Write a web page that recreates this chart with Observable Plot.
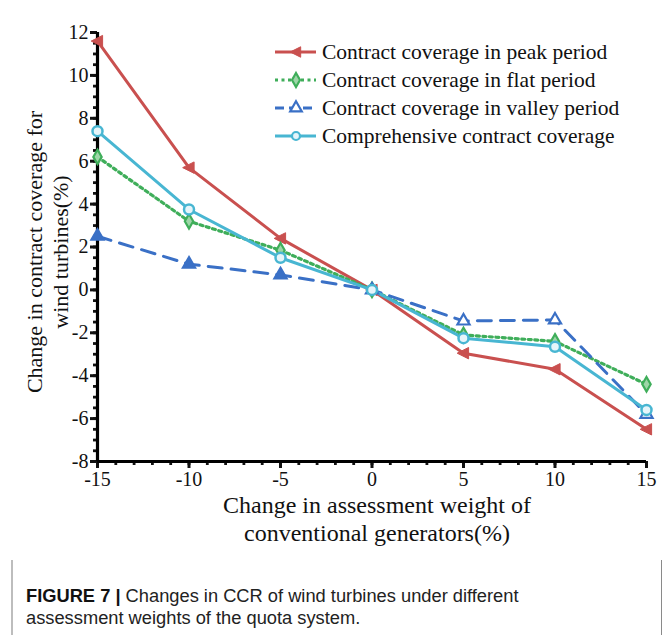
<!DOCTYPE html>
<html><head><meta charset="utf-8">
<script src="https://cdn.jsdelivr.net/npm/d3@7"></script>
<script src="https://cdn.jsdelivr.net/npm/@observablehq/plot@0.6"></script>
<style>
body{margin:0;background:#fff;}
#wrap{position:relative;width:667px;height:635px;overflow:hidden;background:#fff;}
#frame{position:absolute;left:11px;top:6px;width:648px;height:640px;border-top:2px solid #7a7a7a;border-left:2px solid #bdbdbd;border-right:1px solid #8a8a8a;}
#chart{position:absolute;left:0;top:0;}
#caption{position:absolute;left:26px;top:585px;font-family:"Liberation Sans",Arial,sans-serif;font-size:18.3px;line-height:22px;color:#222;}
#caption b{font-weight:bold;color:#111;}
</style></head>
<body>
<div id="wrap">
  <div id="frame"></div>
  <div id="chart"></div>
  <div id="caption"><b>FIGURE 7 |</b> Changes in CCR of wind turbines under different<br>assessment weights of the quota system.</div>
</div>
<script>
const xs = [-15, -10, -5, 0, 5, 10, 15];
const peak = [11.6, 5.7, 2.4, 0, -2.95, -3.7, -6.5];
const flat = [6.2, 3.2, 1.85, 0, -2.1, -2.4, -4.4];
const valley = [2.5, 1.2, 0.7, 0, -1.45, -1.4, -5.8];
const comp = [7.4, 3.75, 1.5, 0, -2.25, -2.65, -5.6];
const seriesNames = ["Contract coverage in peak period", "Contract coverage in flat period", "Contract coverage in valley period", "Comprehensive contract coverage"];
const colors = ["#c9504f", "#3fae5a", "#3a70c6", "#48b6d2"];
const xTicks = [-15, -10, -5, 0, 5, 10, 15];
const yTicks = [-8, -6, -4, -2, 0, 2, 4, 6, 8, 10, 12];
const xMinor = d3.range(-15, 15.01, 1);
const yMinor = d3.range(-8, 12.01, 0.5);

const triLeft = {draw(ctx, size) {
  const r = Math.sqrt(size / Math.PI);
  ctx.moveTo(-r * 1.05, 0);
  ctx.lineTo(r * 0.85, -r * 0.95);
  ctx.lineTo(r * 0.85, r * 0.95);
  ctx.closePath();
}};

const mk = (vals) => xs.map((x, i) => ({x, y: vals[i]}));
const dPeak = mk(peak), dFlat = mk(flat), dValley = mk(valley), dComp = mk(comp);

const W = 667, H = 560;
const plot = Plot.plot({
  width: W, height: H,
  marginLeft: 97, marginRight: 21, marginTop: 32, marginBottom: H - 461,
  x: {domain: [-15, 15]},
  y: {domain: [-8, 12]},
  style: {fontFamily: "'Liberation Serif','Times New Roman',serif", fontSize: "20px", color: "#111", background: "white"},
  marks: [
    Plot.axisX({ticks: xMinor, tickSize: 4, strokeWidth: 2.8, text: null, label: null}),
    Plot.axisY({ticks: yMinor, tickSize: 4, strokeWidth: 2.8, text: null, label: null}),
    Plot.axisX({ticks: xTicks, tickSize: 7, strokeWidth: 3, tickPadding: 3, tickFormat: d => String(d), label: null, fontSize: 20}),
    Plot.axisY({ticks: yTicks, tickSize: 7, strokeWidth: 3, tickPadding: 2, tickFormat: d => String(d), label: null, fontSize: 20}),
    Plot.ruleY([-8], {stroke: "#000", strokeWidth: 3.2}),
    Plot.ruleX([-15], {stroke: "#000", strokeWidth: 3.2}),
    Plot.line(dPeak, {x: "x", y: "y", stroke: colors[0], strokeWidth: 3}),
    Plot.line(dFlat, {x: "x", y: "y", stroke: colors[1], strokeWidth: 3.2, strokeDasharray: "3,3.5"}),
    Plot.line(dValley, {x: "x", y: "y", stroke: colors[2], strokeWidth: 3, strokeDasharray: "14,9"}),
    Plot.line(dComp, {x: "x", y: "y", stroke: colors[3], strokeWidth: 3}),
    Plot.dot(dPeak, {x: "x", y: "y", symbol: triLeft, r: 6, fill: colors[0], stroke: colors[0], strokeWidth: 1}),
    Plot.dot(dFlat, {x: "x", y: "y", symbol: "diamond", r: 4.4, fill: "#9ed6a8", stroke: colors[1], strokeWidth: 2.2}),
    Plot.dot(dValley, {x: "x", y: "y", symbol: "triangle", r: 4.5, fill: d => d.x > 0 ? "white" : colors[2], stroke: colors[2], strokeWidth: 2.2}),
    Plot.dot(dComp, {x: "x", y: "y", symbol: "circle", r: 5, fill: "#e6f5fa", stroke: colors[3], strokeWidth: 2.5})
  ]
});
document.getElementById("chart").appendChild(plot);

const svg = d3.select(plot);
const serif = "'Liberation Serif','Times New Roman',serif";
// axis titles
svg.append("text").attr("x", 377).attr("y", 513).attr("text-anchor", "middle")
  .attr("font-family", serif).attr("font-size", 24).attr("fill", "#111").text("Change in assessment weight of");
svg.append("text").attr("x", 377).attr("y", 541).attr("text-anchor", "middle")
  .attr("font-family", serif).attr("font-size", 24).attr("fill", "#111").text("conventional generators(%)");
svg.append("text").attr("transform", "translate(42,252) rotate(-90)").attr("text-anchor", "middle")
  .attr("font-family", serif).attr("font-size", 22).attr("fill", "#111").text("Change in contract coverage for");
svg.append("text").attr("transform", "translate(68,252) rotate(-90)").attr("text-anchor", "middle")
  .attr("font-family", serif).attr("font-size", 22).attr("fill", "#111").text("wind turbines(%)");

// legend
const legY = [52, 80, 108, 136];
const dashes = [null, "3,3.5", "9,5", null];
const symbols = [triLeft, d3.symbolDiamond, d3.symbolTriangle, d3.symbolCircle];
const symR = [5.5, 4.2, 4.3, 4];
const fills = [colors[0], "#9ed6a8", "white", "#e6f5fa"];
const leg = svg.append("g");
seriesNames.forEach((name, i) => {
  const g = leg.append("g").attr("transform", `translate(0,${legY[i]})`);
  g.append("line").attr("x1", 275).attr("x2", 316).attr("y1", 0).attr("y2", 0)
    .attr("stroke", colors[i]).attr("stroke-width", 3).attr("stroke-dasharray", dashes[i]);
  g.append("path").attr("transform", "translate(296,0)")
    .attr("d", d3.symbol(symbols[i], Math.PI * symR[i] * symR[i])())
    .attr("fill", fills[i]).attr("stroke", colors[i]).attr("stroke-width", i === 0 ? 1 : 2.2);
  g.append("text").attr("x", 322).attr("y", 7).attr("text-anchor", "start").attr("font-family", serif).attr("font-size", 21.5)
    .attr("fill", "#111").text(name);
});
</script>
</body></html>
